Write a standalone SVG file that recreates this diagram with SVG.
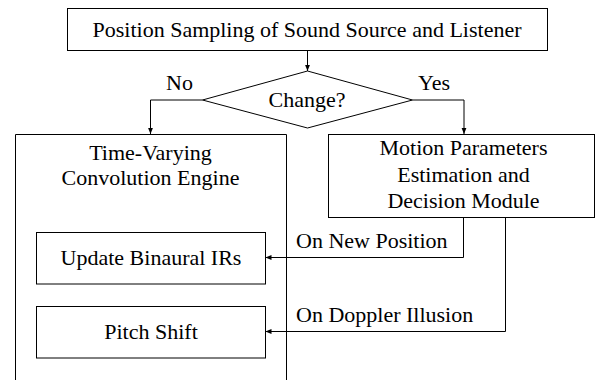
<svg xmlns="http://www.w3.org/2000/svg" width="595" height="380" viewBox="0 0 595 380">
<defs>
<marker id="arr" viewBox="0 0 10 10" refX="10" refY="5" markerWidth="6" markerHeight="6" markerUnits="userSpaceOnUse" orient="auto">
<path d="M0,1 L10,5 L0,9 Z" fill="#000"/>
</marker>
</defs>
<style>
.box{fill:#fff;stroke:#000;stroke-width:1}
.ln{fill:none;stroke:#000;stroke-width:1}
text{font-family:"Liberation Serif","Times New Roman",serif;font-size:22px;fill:#000;text-anchor:middle}
.lab{text-anchor:start}
</style>
<rect width="595" height="380" fill="#fff"/>
<g id="sampling">
<rect class="box" x="67.5" y="8.5" width="480" height="42"/>
<text x="307" y="37">Position Sampling of Sound Source and Listener</text>
</g>
<g id="change">
<polygon class="box" points="307.5,71 412.5,100 307.5,128 202.5,100"/>
<text x="307" y="107">Change?</text>
</g>
<g id="engine">
<path class="ln" d="M15.5,382 V134.5 H286.5 V382"/>
<text x="150.5" y="160">Time-Varying</text>
<text x="150.5" y="185">Convolution Engine</text>
</g>
<g id="update">
<rect class="box" x="36.5" y="232.5" width="229" height="51.5"/>
<text x="151" y="265">Update Binaural IRs</text>
</g>
<g id="pitch">
<rect class="box" x="36.5" y="306.5" width="229" height="51.5"/>
<text x="151" y="339">Pitch Shift</text>
</g>
<g id="motion">
<rect class="box" x="328.5" y="134.5" width="266" height="83"/>
<text x="463.5" y="155">Motion Parameters</text>
<text x="463.5" y="182">Estimation and</text>
<text x="463.5" y="208">Decision Module</text>
</g>
<g id="connectors">
<path class="ln" d="M307.5,50.5 V71" marker-end="url(#arr)"/>
<path class="ln" d="M202.5,100 H150.5 V134" marker-end="url(#arr)"/>
<path class="ln" d="M412.5,100 H464 V134" marker-end="url(#arr)"/>
<path class="ln" d="M463.5,217.5 V257.5 H265.5" marker-end="url(#arr)"/>
<path class="ln" d="M505.5,217.5 V331.5 H265.5" marker-end="url(#arr)"/>
<text class="lab" x="166" y="90">No</text>
<text class="lab" x="418" y="90">Yes</text>
<text class="lab" x="296" y="248">On New Position</text>
<text class="lab" x="296" y="321.5">On Doppler Illusion</text>
</g>
</svg>
